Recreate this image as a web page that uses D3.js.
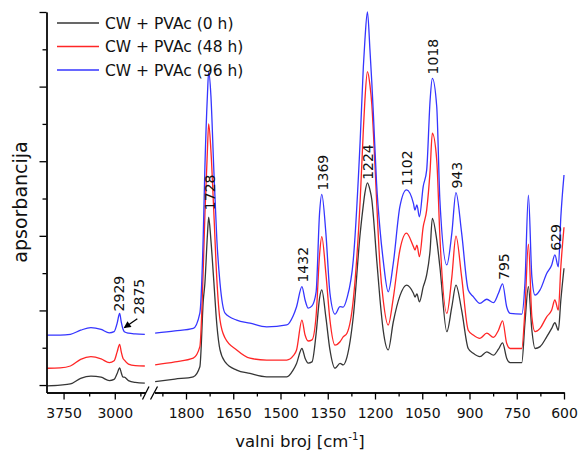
<!DOCTYPE html>
<html><head><meta charset="utf-8">
<script src="https://cdn.jsdelivr.net/npm/d3@7"></script>
<style>
body{margin:0;background:#fff}
svg{display:block}
text{font-family:"DejaVu Sans",sans-serif;fill:#111}
</style>
</head><body><svg id="c" width="580" height="454"></svg>
<script>
// ---------- data ----------
const seriesNames = ["CW + PVAc (0 h)", "CW + PVAc (48 h)", "CW + PVAc (96 h)"];
const seriesColors = ["#363636", "#ff2626", "#3535ff"];

// left segment (C-H stretching region)
const leftWn   = [3990, 3800, 3650, 3500, 3350, 3200, 3080, 3010, 2965, 2929, 2905, 2880, 2860, 2800, 2700, 2560];
const left0h   = [-0.02, 0.00, 0.03, 0.18, 0.24, 0.21, 0.12, 0.15, 0.31, 0.46, 0.33, 0.21, 0.21, 0.12, 0.07, 0.05];
const left48h  = [0.45, 0.46, 0.51, 0.69, 0.76, 0.70, 0.60, 0.65, 0.89, 1.09, 0.89, 0.72, 0.67, 0.56, 0.52, 0.51];
const left96h  = [1.34, 1.34, 1.36, 1.47, 1.54, 1.49, 1.40, 1.43, 1.66, 1.92, 1.69, 1.50, 1.43, 1.39, 1.37, 1.36];

// right segment (fingerprint region)
const rightWn  = [1898, 1835, 1777, 1756, 1745, 1740, 1732, 1728, 1721, 1712, 1702, 1692, 1676, 1639, 1597, 1544, 1480, 1460, 1449, 1432,
                  1422, 1412, 1400, 1387, 1376, 1369, 1356, 1343, 1327, 1311, 1301, 1289, 1269, 1247, 1237, 1232, 1224, 1216, 1210, 1205,
                  1195, 1184, 1174, 1158, 1142, 1121, 1100, 1078, 1073, 1067, 1059, 1047, 1036, 1025, 1018, 1004, 994, 972, 956, 943,
                  925, 904, 888, 867, 845, 824, 808, 795, 782, 771, 734, 724, 713, 702, 692, 676, 655, 639, 629, 618, 610, 600];
const right0h  = [0.09, 0.16, 0.22, 0.49, 2.28, 2.73, 4.02, 4.50, 3.89, 2.82, 1.61, 0.94, 0.62, 0.40, 0.31, 0.22, 0.22, 0.40, 0.58, 0.98,
                  0.72, 0.59, 0.62, 1.37, 2.33, 2.55, 1.82, 0.94, 0.45, 0.58, 0.54, 0.75, 1.83, 4.07, 4.83, 5.15, 5.42, 5.23, 4.96, 4.51,
                  3.40, 2.28, 1.47, 0.94, 1.69, 2.39, 2.68, 2.46, 2.36, 2.44, 2.23, 2.63, 2.95, 3.62, 4.47, 3.89, 3.17, 1.43, 2.10, 2.68,
                  2.01, 0.98, 0.85, 0.76, 0.89, 0.80, 0.96, 1.13, 0.72, 0.60, 0.60, 1.66, 2.64, 1.47, 0.98, 1.03, 1.29, 1.52, 1.67, 1.47, 2.28, 3.13];
const right48h = [0.54, 0.62, 0.72, 1.03, 3.17, 4.56, 6.30, 7.00, 6.30, 4.69, 2.82, 1.74, 1.26, 0.94, 0.72, 0.67, 0.67, 0.78, 0.94, 1.74,
                  1.34, 1.18, 1.21, 1.85, 3.49, 3.98, 3.00, 1.74, 1.07, 1.16, 1.29, 1.39, 2.28, 4.96, 6.84, 7.64, 8.40, 8.04, 7.51, 6.75,
                  4.96, 3.17, 2.28, 1.61, 2.33, 3.62, 4.07, 3.71, 3.62, 3.75, 3.44, 4.24, 4.69, 5.76, 6.75, 6.03, 3.98, 1.92, 2.90, 3.99,
                  2.90, 1.47, 1.34, 1.25, 1.39, 1.28, 1.47, 1.72, 1.12, 0.98, 0.98, 2.01, 3.78, 1.83, 1.43, 1.52, 1.83, 2.01, 2.28, 2.01, 3.17, 4.23];
const right96h = [1.39, 1.45, 1.52, 1.93, 4.08, 5.84, 7.77, 8.40, 7.77, 5.84, 3.89, 2.73, 1.93, 1.74, 1.66, 1.56, 1.61, 1.85, 2.10, 2.64,
                  2.28, 2.06, 2.12, 2.49, 4.61, 5.11, 4.08, 2.46, 1.90, 2.10, 2.09, 2.33, 3.35, 6.57, 8.53, 9.25, 10.0, 8.98, 8.09, 7.24,
                  5.41, 4.16, 3.35, 2.50, 3.26, 4.78, 5.23, 4.87, 4.69, 4.83, 4.51, 5.32, 5.76, 7.64, 8.22, 7.46, 4.96, 3.22, 4.08, 5.16,
                  4.08, 2.55, 2.37, 2.19, 2.30, 2.21, 2.46, 2.71, 2.10, 1.92, 1.90, 2.73, 5.09, 2.90, 2.41, 2.55, 2.99, 3.22, 3.49, 3.17, 4.51, 5.63];

const leftMajorTicks  = [3750, 3000];
const leftMinorTicks  = [3375, 2625];
const rightMajorTicks = [1800, 1650, 1500, 1350, 1200, 1050, 900, 750, 600];
const rightMinorTicks = [1875, 1725, 1575, 1425, 1275, 1125, 975, 825, 675];
const yMajorTicks = [0, 2, 4, 6, 8, 10];
const yMinorTicks = [1, 3, 5, 7, 9];

const peakLabelsRight = [1728, 1432, 1369, 1224, 1102, 1018, 943, 795, 629];
const peakLabelsLeft  = [2929, 2875];

const xTitle = "valni broj [cm";
const yTitle = "apsorbancija";

// ---------- scales ----------
const svg = d3.select("#c");
const xL = d3.scaleLinear().domain([4000, 2550]).range([46.5, 145.5]);
const xR = d3.scaleLinear().domain([1900, 600]).range([154.5, 564]);
const y  = d3.scaleLinear().domain([-0.2, 10]).range([392.5, 12]);
const axisY = 392.5;

const leftVals  = [left0h, left48h, left96h];
const rightVals = [right0h, right48h, right96h];

// ---------- series ----------
const mkLine = xs => d3.line().x(d => xs(d[0])).y(d => y(d[1])).curve(d3.curveMonotoneX);
const gS = svg.append("g");
[0, 1, 2].forEach(i => {
  gS.append("path").datum(leftWn.map((w, j) => [w, leftVals[i][j]]))
    .attr("d", mkLine(xL)).attr("fill", "none").attr("stroke", seriesColors[i]).attr("stroke-width", 1.3);
  gS.append("path").datum(rightWn.map((w, j) => [w, rightVals[i][j]]))
    .attr("d", mkLine(xR)).attr("fill", "none").attr("stroke", seriesColors[i]).attr("stroke-width", 1.3);
});

// ---------- axes ----------
function styleAxis(g) {
  g.selectAll("path,line").attr("stroke", "#000").attr("stroke-width", 1.3);
  g.selectAll("text").attr("font-size", 14).attr("font-family", "DejaVu Sans").attr("fill", "#111");
}
svg.append("g").attr("transform", `translate(0,${axisY})`)
  .call(d3.axisBottom(xL).tickValues(leftMajorTicks).tickSize(7).tickSizeOuter(0).tickPadding(9).tickFormat(d3.format("d")))
  .call(styleAxis);
svg.append("g").attr("transform", `translate(0,${axisY})`)
  .call(d3.axisBottom(xL).tickValues(leftMinorTicks).tickSize(4).tickSizeOuter(0).tickFormat(""))
  .call(styleAxis);
svg.append("g").attr("transform", `translate(0,${axisY})`)
  .call(d3.axisBottom(xR).tickValues(rightMajorTicks).tickSize(7).tickSizeOuter(0).tickPadding(9).tickFormat(d3.format("d")))
  .call(styleAxis);
svg.append("g").attr("transform", `translate(0,${axisY})`)
  .call(d3.axisBottom(xR).tickValues(rightMinorTicks).tickSize(4).tickSizeOuter(0).tickFormat(""))
  .call(styleAxis);
svg.append("g").attr("transform", `translate(46.5,0)`)
  .call(d3.axisLeft(y).tickValues(yMajorTicks).tickSize(7).tickSizeOuter(0).tickFormat(""))
  .call(styleAxis);
svg.append("g").attr("transform", `translate(46.5,0)`)
  .call(d3.axisLeft(y).tickValues(yMinorTicks).tickSize(4).tickSizeOuter(0).tickFormat(""))
  .call(styleAxis);

// axis break marks
const brk = svg.append("g").attr("stroke", "#000").attr("stroke-width", 1.3);
brk.append("line").attr("x1", xL.range()[1] - 3).attr("y1", axisY + 7).attr("x2", xL.range()[1] + 3.5).attr("y2", axisY - 6);
brk.append("line").attr("x1", xR.range()[0] - 4).attr("y1", axisY + 7).attr("x2", xR.range()[0] + 3).attr("y2", axisY - 6);

// ---------- titles ----------
const xt = svg.append("text").attr("x", 300).attr("y", 447).attr("text-anchor", "middle").attr("font-size", 16.5);
xt.append("tspan").text(xTitle);
xt.append("tspan").attr("font-size", 10).attr("dy", -7).text("-1");
xt.append("tspan").attr("dy", 7).text("]");

svg.append("text").attr("transform", "translate(27,202) rotate(-90)")
  .attr("text-anchor", "middle").attr("font-size", 19).text(yTitle);

// ---------- peak labels ----------
const valAt = (wns, vals, w) => {
  let best = 0;
  wns.forEach((v, j) => { if (Math.abs(v - w) < Math.abs(wns[best] - w)) best = j; });
  return vals[best];
};
function peakLabel(px, py, txt) {
  svg.append("text").attr("transform", `translate(${px},${py}) rotate(-90)`)
    .attr("font-size", 14).text(txt);
}
peakLabelsRight.forEach(w => {
  let py = y(valAt(rightWn, right96h, w)) - 4;
  if (w === 1728) py = y(valAt(rightWn, right0h, w)) - 7;
  if (w === 1224) py = y(valAt(rightWn, right0h, w)) - 3;
  peakLabel(xR(w) + 6, py, String(w));
});
peakLabel(xL(2929) + 4, y(valAt(leftWn, left96h, 2929)) - 2, "2929");
peakLabel(xL(2640) + 5, y(valAt(leftWn, left96h, 2929)) + 1, "2875");

// arrow to the 2875 shoulder
svg.append("defs").append("marker").attr("id", "ah").attr("viewBox", "0 0 10 10")
  .attr("refX", 9).attr("refY", 5).attr("markerWidth", 9).attr("markerHeight", 7)
  .attr("markerUnits", "userSpaceOnUse").attr("orient", "auto")
  .append("path").attr("d", "M0,0L10,5L0,10Z").attr("fill", "#000");
const tipX = xL(2875) + 1, tipY = y(valAt(leftWn, left96h, 2860)) - 4;
svg.append("line").attr("x1", tipX + 13).attr("y1", tipY - 9).attr("x2", tipX).attr("y2", tipY)
  .attr("stroke", "#000").attr("stroke-width", 1.3).attr("marker-end", "url(#ah)");

// ---------- legend ----------
const lg = svg.append("g");
seriesNames.forEach((n, i) => {
  const ly = 23 + i * 23.5;
  lg.append("line").attr("x1", 57).attr("x2", 99).attr("y1", ly).attr("y2", ly)
    .attr("stroke", seriesColors[i]).attr("stroke-width", 1.3);
  lg.append("text").attr("x", 105).attr("y", ly + 5.5).attr("font-size", 15.5).text(n);
});
</script>
</body></html>
